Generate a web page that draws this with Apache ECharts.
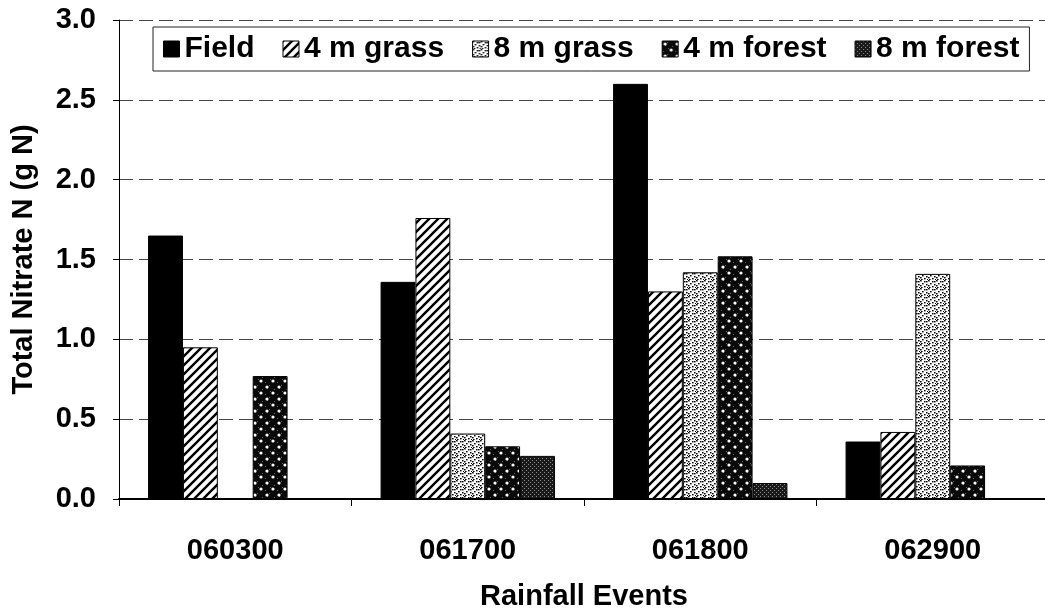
<!DOCTYPE html>
<html>
<head>
<meta charset="utf-8">
<script src="https://cdn.jsdelivr.net/npm/echarts@6/dist/echarts.min.js"></script>
<style>
  html, body { margin: 0; padding: 0; background: #fff; }
  #chart { width: 1045px; height: 613px; }
</style>
</head>
<body>
<div id="chart"></div>
<script>
// Rainfall events on the category axis
const events = ['060300', '061700', '061800', '062900'];

// Total nitrate N (g N) for each treatment, one value per event
const field      = [1.65, 1.36, 2.60, 0.36];
const grass4m    = [0.95, 1.76, 1.30, 0.42];
const grass8m    = [0.00, 0.41, 1.42, 1.41];
const forest4m   = [0.77, 0.33, 1.52, 0.21];
const forest8m   = [0.00, 0.27, 0.10, 0.00];

const seriesNames = ['Field', '4 m grass', '8 m grass', '4 m forest', '8 m forest'];
const yTicks = [0, 0.5, 1.0, 1.5, 2.0, 2.5, 3.0];

// ---- fill patterns (black & white hatching) ----
function makeTile(w, h, draw) {
  const c = document.createElement('canvas');
  c.width = w; c.height = h;
  const g = c.getContext('2d');
  draw(g, w, h);
  return { image: c, repeat: 'repeat' };
}

// forward diagonal stripes
const stripeFill = makeTile(9, 9, (g, w, h) => {
  g.fillStyle = '#fff'; g.fillRect(0, 0, w, h);
  g.strokeStyle = '#000'; g.lineWidth = 2.4;
  g.beginPath();
  g.moveTo(-2, h + 2); g.lineTo(w + 2, -2);
  g.moveTo(-2 - w, h + 2); g.lineTo(2, -2);
  g.moveTo(w - 2, h + 2); g.lineTo(2 * w + 2, -2);
  g.stroke();
});

// fine stipple of short dashes on white
const stippleFill = makeTile(8, 8, (g, w, h) => {
  g.fillStyle = '#fff'; g.fillRect(0, 0, w, h);
  g.fillStyle = '#000';
  const pts = [[0,0],[4,1],[2,3],[6,4],[0,5],[4,6],[7,7],[1,7],[6,1]];
  pts.forEach(p => g.fillRect(p[0], p[1], 1.6, 1.4));
});

// white dots on black
const dotFill = makeTile(12, 12, (g, w, h) => {
  g.fillStyle = '#0a0a0a'; g.fillRect(0, 0, w, h);
  g.fillStyle = '#666';
  [[5,1],[10,5],[1,10],[6,7],[3,4]].forEach(p => g.fillRect(p[0], p[1], 1, 1));
  g.fillStyle = '#fff';
  g.beginPath(); g.arc(3, 3, 1.6, 0, Math.PI * 2); g.fill();
  g.beginPath(); g.arc(9, 9, 1.6, 0, Math.PI * 2); g.fill();
});

// dense dark grey
const darkFill = makeTile(4, 4, (g, w, h) => {
  g.fillStyle = '#1a1a1a'; g.fillRect(0, 0, w, h);
  g.fillStyle = '#8a8a8a';
  g.fillRect(0, 0, 1, 1);
  g.fillRect(2, 2, 1, 1);
});

const fills = ['#000', stripeFill, stippleFill, dotFill, darkFill];
const values = [field, grass4m, grass8m, forest4m, forest8m];

const FONT = '"Liberation Sans", Arial, Helvetica, sans-serif';

const chart = echarts.init(document.getElementById('chart'), null, { renderer: 'canvas' });

chart.setOption({
  animation: false,
  backgroundColor: '#fff',
  textStyle: { fontFamily: FONT },
  grid: { left: 119, top: 20, width: 930, bottom: 114, containLabel: false, outerBoundsMode: 'none' },
  legend: {
    data: seriesNames.map(n => ({ name: n, icon: 'rect' })),
    left: 153, top: 27,
    orient: 'horizontal',
    itemWidth: 16, itemHeight: 16,
    itemGap: 28,
    padding: [7, 10, 7, 10],
    backgroundColor: '#fff',
    borderColor: '#222', borderWidth: 1,
    textStyle: { fontFamily: FONT, fontWeight: 'bold', fontSize: 30, color: '#000' },
    itemStyle: { borderColor: '#000', borderWidth: 1 }
  },
  xAxis: {
    type: 'category',
    data: events,
    name: 'Rainfall Events',
    nameLocation: 'middle',
    nameGap: 83,
    nameTextStyle: { fontFamily: FONT, fontWeight: 'bold', fontSize: 29, color: '#000' },
    axisLine: { lineStyle: { color: '#000', width: 2 } },
    axisTick: { show: true, alignWithLabel: false, length: 7, lineStyle: { color: '#000' } },
    axisLabel: { margin: 37, fontFamily: FONT, fontWeight: 'bold', fontSize: 29, color: '#000' },
    splitLine: { show: false }
  },
  yAxis: {
    type: 'value',
    min: 0, max: 3, interval: 0.5,
    name: 'Total Nitrate N (g N)',
    nameLocation: 'middle',
    nameRotate: 90,
    nameGap: 81,
    nameTextStyle: { fontFamily: FONT, fontWeight: 'bold', fontSize: 29, color: '#000' },
    axisLine: { show: true, lineStyle: { color: '#000', width: 1 } },
    axisTick: { show: true, length: 6, lineStyle: { color: '#000' } },
    axisLabel: {
      margin: 23, fontFamily: FONT, fontWeight: 'bold', fontSize: 29, color: '#000',
      formatter: v => (yTicks.includes(v) ? v.toFixed(1) : '')
    },
    splitLine: { show: true, lineStyle: { color: '#444', width: 1, type: [14, 6] } }
  },
  series: seriesNames.map((name, i) => ({
    name,
    type: 'bar',
    data: values[i],
    barGap: '0%',
    barCategoryGap: '25%',
    itemStyle: { color: fills[i], borderColor: '#000', borderWidth: 1 },
    emphasis: { disabled: true }
  }))
});
</script>
</body>
</html>
